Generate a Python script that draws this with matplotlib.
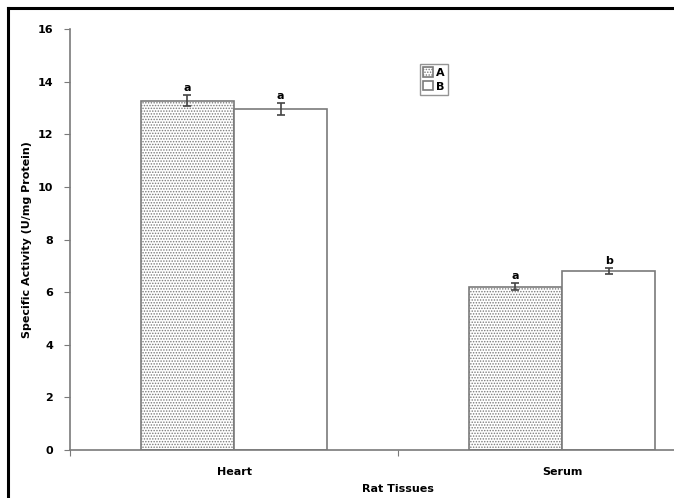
import matplotlib
matplotlib.use("Agg")
import matplotlib.pyplot as plt
from matplotlib.lines import Line2D
import numpy as np

tissues = ["Heart", "Serum"]
groups = ["A", "B"]
activity_a = [13.28, 6.21]
activity_b = [12.95, 6.80]
err_a = [0.22, 0.12]
err_b = [0.22, 0.13]
letters_a = ["a", "a"]
letters_b = ["a", "b"]

plt.rcParams["hatch.color"] = "#a8a8a8"
plt.rcParams["hatch.linewidth"] = 0.7

fig = plt.figure(figsize=(6.74, 4.98), dpi=100)
ax = fig.add_axes([70 / 674, 48 / 498, 656 / 674, 421 / 498])

x = np.arange(len(tissues))
w = 0.285
edge = "#7a7a7a"
bars_a = ax.bar(x - w / 2, activity_a, w, color="white", edgecolor=edge,
                hatch="......", linewidth=1.2, label=groups[0])
bars_b = ax.bar(x + w / 2, activity_b, w, color="white", edgecolor=edge,
                linewidth=1.2, label=groups[1])
ax.errorbar(x - w / 2, activity_a, yerr=err_a, fmt="none", ecolor="#444444",
            elinewidth=1.2, capsize=3, capthick=1.2)
ax.errorbar(x + w / 2, activity_b, yerr=err_b, fmt="none", ecolor="#444444",
            elinewidth=1.2, capsize=3, capthick=1.2)

# significance letters above each error bar
for xi, v, e, t in zip(x - w / 2, activity_a, err_a, letters_a):
    ax.text(xi, v + e + 0.08, t, ha="center", va="bottom", fontsize=8,
            fontweight="bold")
for xi, v, e, t in zip(x + w / 2, activity_b, err_b, letters_b):
    ax.text(xi, v + e + 0.08, t, ha="center", va="bottom", fontsize=8,
            fontweight="bold")

ax.set_xlim(-0.5, 1.5)
ax.set_ylim(0, 16)
ax.set_yticks(range(0, 17, 2))
ax.set_xticks([-0.5, 0.5, 1.5])
ax.set_xticklabels([])
ax.set_xticks(x, minor=True)
ax.set_xticklabels(tissues, minor=True, fontsize=8, fontweight="bold")
ax.tick_params(axis="x", which="minor", length=0, pad=12)
ax.tick_params(axis="x", which="major", length=4, color=edge)
ax.tick_params(axis="y", length=4, color=edge, labelsize=8, pad=8)
for lab in ax.get_yticklabels():
    lab.set_fontweight("bold")

for s in ["top", "right"]:
    ax.spines[s].set_visible(False)
for s in ["left", "bottom"]:
    ax.spines[s].set_color(edge)
    ax.spines[s].set_linewidth(1.2)

ax.set_ylabel("Specific Activity (U/mg Protein)", fontsize=8, fontweight="bold",
              labelpad=4)
ax.set_xlabel("Rat Tissues", fontsize=8, fontweight="bold", labelpad=5)

leg = ax.legend(loc="upper left", bbox_to_anchor=(350 / 656, 1 - 35 / 421),
                frameon=True, fancybox=False, edgecolor=edge, fontsize=8,
                handlelength=0.9, handleheight=0.9, handletextpad=0.2,
                borderpad=0.3, labelspacing=0.3, borderaxespad=0)
for t in leg.get_texts():
    t.set_fontweight("bold")

# frame lines along the top and left of the figure
fig.add_artist(Line2D([8 / 674, 8 / 674], [0, 1 - 8 / 498], color="black",
                      linewidth=2.2, transform=fig.transFigure))
fig.add_artist(Line2D([8 / 674, 1], [1 - 8 / 498, 1 - 8 / 498], color="black",
                      linewidth=2.2, transform=fig.transFigure))

fig.savefig("out.png", dpi=100)
